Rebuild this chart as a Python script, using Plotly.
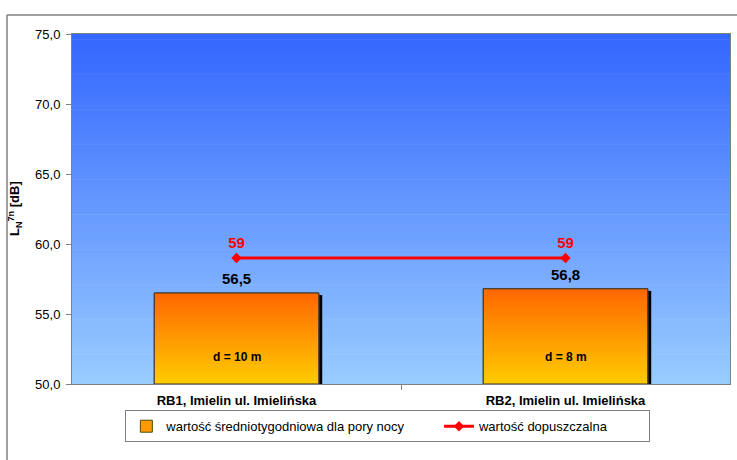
import plotly.graph_objects as go

# --- data ---
CATEGORIES = ["RB1, Imielin ul. Imielińska", "RB2, Imielin ul. Imielińska"]
NIGHT_LEVELS = [56.5, 56.8]          # wartość średniotygodniowa dla pory nocy [dB]
LIMIT_LEVELS = [59, 59]              # wartość dopuszczalna [dB]
DISTANCES = ["d = 10 m", "d = 8 m"]
Y_TICKS = [50, 55, 60, 65, 70, 75]

# --- styling ---
FONT = "Liberation Sans, Arial, sans-serif"
Y_MIN, Y_MAX = 50, 75
BAR_WIDTH = 0.5
BG_TOP = (51, 102, 255)
BG_BOTTOM = (153, 204, 255)
W, H = 737, 460
M_L, M_R, M_T, M_B = 72, 7, 34, 76
NBSP = "\u00a0"

xs = list(range(len(CATEGORIES)))

fig = go.Figure()

# legend entry / base of the bars
fig.add_trace(go.Bar(
    x=xs, y=[v - Y_MIN for v in NIGHT_LEVELS], base=Y_MIN, width=BAR_WIDTH,
    marker=dict(color="#FF9900", line=dict(color="#4D4D00", width=1)),
    name="wartość średniotygodniowa dla pory nocy" + NBSP * 8,
    hoverinfo="skip",
))

# gradient-filled bar bodies with their dark drop shadow
for i, v in zip(xs, NIGHT_LEVELS):
    x0, x1 = i - BAR_WIDTH / 2, i + BAR_WIDTH / 2
    fig.add_trace(go.Scatter(
        x=[x1 + 0.006, x1 + 0.006], y=[Y_MIN, v - 0.15], mode="lines",
        line=dict(color="black", width=3), showlegend=False, hoverinfo="skip",
    ))
    fig.add_trace(go.Scatter(
        x=[x0, x1, x1, x0, x0], y=[Y_MIN, Y_MIN, v, v, Y_MIN],
        mode="lines", fill="toself",
        fillgradient=dict(type="vertical",
                          colorscale=[[0, "#FFCC00"], [1, "#FF6600"]]),
        line=dict(color="#333333", width=1),
        showlegend=False, hoverinfo="skip",
    ))

# permissible limit line
fig.add_trace(go.Scatter(
    x=xs, y=LIMIT_LEVELS, mode="lines+markers+text",
    line=dict(color="#FF0000", width=3),
    marker=dict(symbol="diamond", size=8, color="#FF0000"),
    text=[str(v) for v in LIMIT_LEVELS], textposition="top center",
    textfont=dict(family=FONT, size=15, color="#FF0000", weight="bold"),
    name="wartość dopuszczalna" + NBSP * 10, hoverinfo="skip",
))

# value labels above the bars
for i, v in zip(xs, NIGHT_LEVELS):
    fig.add_annotation(x=i, y=v, yanchor="bottom", yshift=4,
                       text=f"{v:.1f}".replace(".", ","), showarrow=False,
                       font=dict(family=FONT, size=15, color="black", weight="bold"))

# distance labels inside the bars
for i, d in zip(xs, DISTANCES):
    fig.add_annotation(x=i, y=Y_MIN, yshift=18, yanchor="bottom", text=d,
                       showarrow=False,
                       font=dict(family=FONT, size=12, color="black", weight="bold"))

# vertical background gradient of the plot area
N = 120
shapes = []
for k in range(N):
    t = k / (N - 1)
    c = tuple(round(BG_BOTTOM[j] + (BG_TOP[j] - BG_BOTTOM[j]) * t) for j in range(3))
    shapes.append(dict(type="rect", xref="paper", yref="paper", layer="below",
                       x0=0, x1=1, y0=k / N, y1=(k + 1) / N + 0.002,
                       fillcolor=f"rgb{c}", line=dict(width=0)))

pw = W - M_L - M_R
ph = H - M_T - M_B
# chart frame
shapes.append(dict(type="line", xref="paper", yref="paper",
                   x0=(7 - M_L) / pw, x1=1 + M_R / pw,
                   y0=1 + (M_T - 15) / ph, y1=1 + (M_T - 15) / ph,
                   line=dict(color="#808080", width=1.5)))
shapes.append(dict(type="line", xref="paper", yref="paper",
                   x0=(7 - M_L) / pw, x1=(7 - M_L) / pw,
                   y0=1 + (M_T - 15) / ph, y1=-M_B / ph,
                   line=dict(color="#808080", width=1.5)))

fig.add_annotation(xref="paper", yref="paper", x=(15 - M_L) / pw, y=0.5,
                   xanchor="center", yanchor="middle", textangle=-90,
                   text="L<sub>N</sub><sup>7n</sup> [dB]", showarrow=False,
                   font=dict(family=FONT, size=13, color="black", weight="bold"))

fig.update_layout(
    width=W, height=H,
    margin=dict(l=M_L, r=M_R, t=M_T, b=M_B),
    paper_bgcolor="white", plot_bgcolor="rgba(0,0,0,0)",
    separators=", ",
    shapes=shapes,
    showlegend=True,
    legend=dict(orientation="h", x=0.48, xanchor="center", y=-0.075, yanchor="top",
                bordercolor="#808080", borderwidth=1, bgcolor="white",
                font=dict(family=FONT, size=13, color="black"),
                itemwidth=30, traceorder="normal"),
    xaxis=dict(range=[-0.5, 1.5], tickvals=xs, ticktext=CATEGORIES, ticks="",
               ticklabelstandoff=4,
               tickfont=dict(family=FONT, size=13, color="black", weight="bold"),
               showgrid=False, zeroline=False, showline=True, linecolor="#808080",
               mirror=True,
               minor=dict(tickvals=[0.5], ticks="outside", ticklen=5, tickcolor="#808080")),
    yaxis=dict(range=[Y_MIN, Y_MAX], tickvals=Y_TICKS, tickformat=".1f",
               ticks="outside", ticklen=5, tickcolor="#808080", ticklabelstandoff=3,
               tickfont=dict(family=FONT, size=13, color="black"),
               showgrid=False, zeroline=False, showline=True, linecolor="#808080",
               mirror=True),
)

fig.write_html("out.html")
